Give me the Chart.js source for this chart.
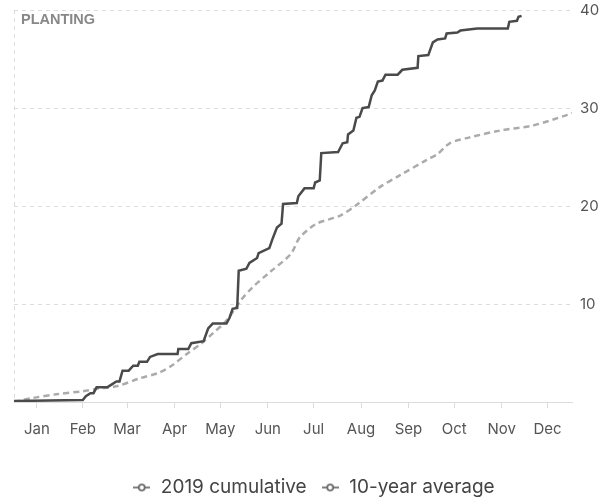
<!DOCTYPE html>
<html>
<head>
<meta charset="utf-8">
<script src="https://cdn.jsdelivr.net/npm/chart.js@4"></script>
<style>
  html, body { margin: 0; padding: 0; background: #fff; }
  #wrap { width: 613px; height: 502px; }
</style>
</head>
<body>
<div id="wrap"><canvas id="planting"></canvas></div>
<script>
// day of year / cumulative value
const days2019 = [0, 45, 47, 50, 52, 54, 61, 64, 67, 69, 71, 75, 78, 81, 82, 87, 89, 94, 107, 107.5, 114, 116, 124, 127, 130, 139, 141, 143, 146, 147, 152, 154, 159, 160, 167, 169, 172, 175, 176, 185, 186, 190, 196, 197, 200, 201, 212, 215, 218, 218.5, 222, 224, 226, 228, 232, 234, 236, 238, 241, 243, 251, 254, 264, 264.5, 271, 274, 277, 282, 283, 290, 292, 303, 323, 324, 329, 330, 332];
const values2019 = [0.1, 0.2, 0.6, 0.9, 0.9, 1.5, 1.5, 1.8, 2.1, 2.1, 3.2, 3.2, 3.7, 3.7, 4.1, 4.1, 4.6, 4.9, 4.9, 5.4, 5.4, 6.0, 6.2, 7.5, 8.0, 8.0, 8.6, 9.5, 9.6, 13.4, 13.6, 14.2, 14.7, 15.2, 15.7, 16.6, 17.8, 18.2, 20.2, 20.3, 21.0, 21.8, 21.8, 22.4, 22.6, 25.4, 25.5, 26.4, 26.5, 27.3, 27.7, 29.0, 29.1, 30.0, 30.1, 31.3, 31.8, 32.7, 32.8, 33.4, 33.4, 33.9, 34.1, 35.3, 35.4, 36.7, 37.0, 37.1, 37.6, 37.7, 37.9, 38.1, 38.1, 38.8, 38.9, 39.3, 39.4];

const daysAvg = [0, 12, 28, 45, 56, 67, 82, 95, 104, 113, 122, 130, 139, 148, 156, 167, 181, 187, 198, 213, 224, 239, 252, 270, 277, 285, 298, 318, 339, 362, 365];
const valuesAvg = [0, 0.4, 0.8, 1.1, 1.4, 1.6, 2.4, 3.0, 3.8, 4.9, 5.9, 7.0, 8.3, 10.3, 11.7, 13.2, 15.1, 16.8, 18.2, 19.0, 20.1, 21.9, 23.1, 24.7, 25.3, 26.4, 27.0, 27.7, 28.2, 29.3, 29.5];

const months = ['Jan', 'Feb', 'Mar', 'Apr', 'May', 'Jun', 'Jul', 'Aug', 'Sep', 'Oct', 'Nov', 'Dec'];
const monthMid = [15, 45, 74, 105, 135, 166, 196, 227, 258, 288, 319, 349];
const yTicks = [0, 10, 20, 30, 40];

const seriesNames = ['2019 cumulative', '10-year average'];

function legendMarker(color) {
  const c = document.createElement('canvas');
  c.width = 17; c.height = 10;
  const g = c.getContext('2d');
  g.strokeStyle = color;
  g.lineWidth = 1.5;
  g.beginPath(); g.moveTo(0, 5); g.lineTo(17, 5); g.stroke();
  g.fillStyle = '#fff';
  g.beginPath(); g.arc(8.5, 5, 3, 0, Math.PI * 2); g.fill(); g.stroke();
  return c;
}

const cornerLabel = {
  id: 'cornerLabel',
  afterDraw(chart) {
    const { ctx, chartArea } = chart;
    ctx.save();
    ctx.font = 'bold 14.5px "Liberation Sans", Arial, sans-serif';
    ctx.fillStyle = '#888';
    ctx.textBaseline = 'middle';
    ctx.fillText('PLANTING', chartArea.left + 7, 20);
    ctx.restore();
  }
};

const gridColor = '#dcdcdc';

new Chart(document.getElementById('planting'), {
  type: 'line',
  data: {
    datasets: [{
      label: seriesNames[0],
      data: days2019.map((d, i) => ({ x: d, y: values2019[i] })),
      borderColor: '#4a4a4a',
      borderWidth: 2.5,
      pointRadius: 0,
      pointStyle: legendMarker('#555'),
      tension: 0,
      fill: false
    }, {
      label: seriesNames[1],
      data: daysAvg.map((d, i) => ({ x: d, y: valuesAvg[i] })),
      borderColor: '#ababab',
      borderWidth: 2.5,
      borderDash: [6, 4],
      pointRadius: 0,
      pointStyle: legendMarker('#555'),
      tension: 0.3,
      fill: false
    }]
  },
  options: {
    responsive: true,
    maintainAspectRatio: false,
    animation: false,
    layout: { padding: { left: 14, top: 0, right: 0, bottom: -5 } },
    plugins: {
      legend: {
        position: 'bottom',
        labels: {
          usePointStyle: true,
          color: '#444',
          font: { family: 'Inter, sans-serif', size: 19 },
          padding: 14
        }
      },
      tooltip: { enabled: false }
    },
    scales: {
      x: {
        type: 'linear',
        min: 0,
        max: 365,
        afterBuildTicks: (axis) => {
          axis.ticks = [{ value: 0 }].concat(monthMid.map(v => ({ value: v })));
        },
        afterFit: (axis) => { axis.height = 62; },
        ticks: {
          autoSkip: false,
          maxRotation: 0,
          padding: 12,
          color: '#555',
          font: { family: 'Inter, sans-serif', size: 15 },
          callback: (value) => {
            const i = monthMid.indexOf(value);
            return i >= 0 ? months[i] : '';
          }
        },
        grid: {
          drawOnChartArea: true,
          color: (ctx) => (ctx.tick && ctx.tick.value === 0 ? gridColor : 'transparent'),
          tickColor: (ctx) => (ctx.tick && ctx.tick.value === 0 ? 'transparent' : gridColor),
          tickLength: 6
        },
        border: { color: gridColor, dash: [4, 4] }
      },
      y: {
        position: 'right',
        min: 0,
        max: 40,
        afterBuildTicks: (axis) => { axis.ticks = yTicks.map(v => ({ value: v })); },
        afterFit: (axis) => { axis.width = 41; axis.paddingTop = 10; },
        ticks: {
          padding: 8,
          color: '#555',
          font: { family: 'Inter, sans-serif', size: 15 },
          callback: (value) => (value === 0 ? '' : String(value))
        },
        grid: {
          color: gridColor,
          drawTicks: false
        },
        border: { display: false, dash: [4, 4] }
      }
    }
  },
  plugins: [cornerLabel]
});
</script>
</body>
</html>
